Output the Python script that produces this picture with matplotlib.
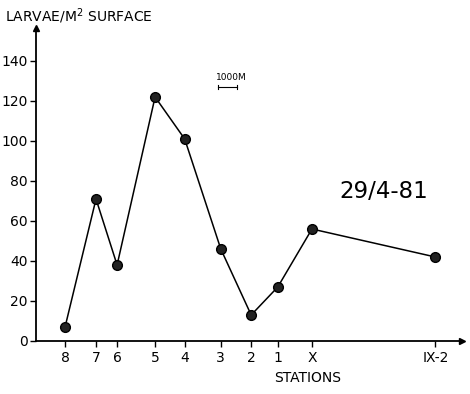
import matplotlib
matplotlib.use("Agg")
import matplotlib.pyplot as plt

stations = ["8", "7", "6", "5", "4", "3", "2", "1", "X", "IX-2"]
positions_km = [0.0, 1.63, 2.74, 4.74, 6.3, 8.2, 9.8, 11.2, 13.0, 19.5]
larvae = [7, 71, 38, 122, 101, 46, 13, 27, 56, 42]
yticks = [0, 20, 40, 60, 80, 100, 120, 140]

plt.rcParams['font.family'] = ['DejaVu Sans']
fig = plt.figure(figsize=(4.7, 3.94), dpi=100)
W, H = 470, 394
x0, x1 = 36, 462
y0, y1 = 341, 28
ax = fig.add_axes([x0 / W, 1 - y0 / H, (x1 - x0) / W, (y0 - y1) / H])

ax.plot(positions_km, larvae, color='black', lw=1.1, marker='o', ms=7,
        mfc='#222222', mec='black', zorder=3)

ax.set_xlim(-1.53, 20.9)
ax.set_ylim(0, 156.5)
ax.set_xticks(positions_km)
ax.set_xticklabels(stations)
ax.set_yticks(yticks)
ax.tick_params(axis='both', direction='out', length=4, width=1, labelsize=10, colors='black')
ax.tick_params(axis='x', pad=3)
ax.tick_params(axis='y', pad=2)
for s in ['top', 'right']:
    ax.spines[s].set_visible(False)
for s in ['left', 'bottom']:
    ax.spines[s].set_linewidth(1.3)

# arrows on axes
ax.plot(1, 0, '>k', ms=4, transform=ax.transAxes, clip_on=False)
ax.plot(0, 1, '^k', ms=4, transform=ax.transAxes, clip_on=False)

fig.text(5 / W, 1 - 16 / H, "LARVAE/M$^2$ SURFACE", fontsize=10, va='center', ha='left')
fig.text(308 / W, 1 - 378 / H, "STATIONS", fontsize=10, va='center', ha='center')
fig.text(384 / W, 1 - 192 / H, "29/4-81", fontsize=16.5, va='center', ha='center')
fig.text(231 / W, 1 - 78 / H, "1000M", fontsize=6.5, va='center', ha='center')
fig.add_artist(plt.Line2D([218 / W, 237 / W], [1 - 87 / H, 1 - 87 / H], color='black', lw=0.8))
fig.add_artist(plt.Line2D([218 / W, 218 / W], [1 - 85 / H, 1 - 89 / H], color='black', lw=0.8))
fig.add_artist(plt.Line2D([237 / W, 237 / W], [1 - 85 / H, 1 - 89 / H], color='black', lw=0.8))

fig.savefig("out.png", dpi=100)
